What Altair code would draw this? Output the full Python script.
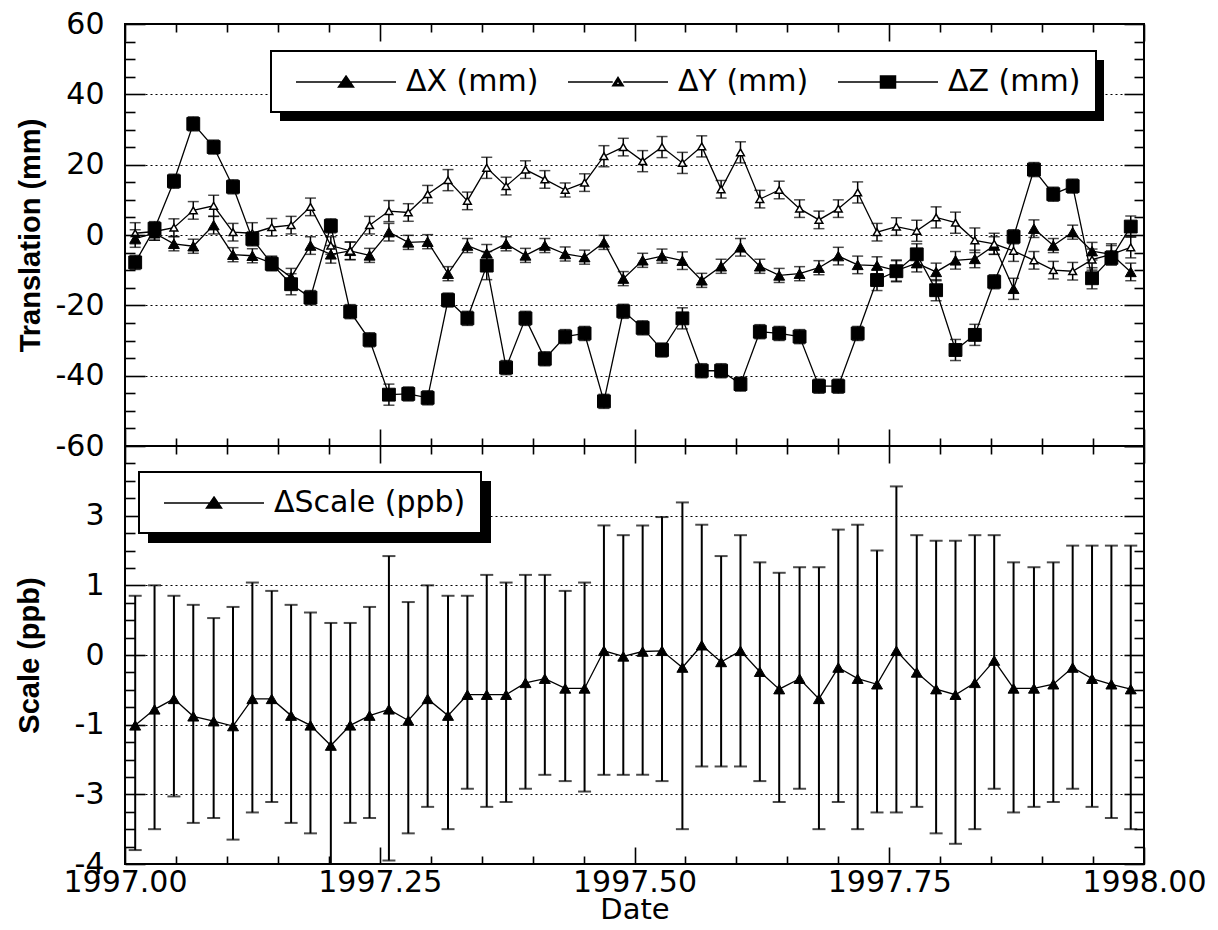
import altair as alt
import pandas as pd

# ---------------- data ----------------
dates = [1997.010, 1997.029, 1997.048, 1997.067, 1997.087, 1997.106, 1997.125, 1997.144,
         1997.163, 1997.182, 1997.202, 1997.221, 1997.240, 1997.259, 1997.278, 1997.297,
         1997.317, 1997.336, 1997.355, 1997.374, 1997.393, 1997.412, 1997.432, 1997.451,
         1997.470, 1997.489, 1997.508, 1997.527, 1997.547, 1997.566, 1997.585, 1997.604,
         1997.623, 1997.642, 1997.662, 1997.681, 1997.700, 1997.719, 1997.738, 1997.757,
         1997.777, 1997.796, 1997.815, 1997.834, 1997.853, 1997.872, 1997.892, 1997.911,
         1997.930, 1997.949, 1997.968, 1997.987]

dx = [-1.0, 0.5, -2.5, -3.2, 2.8, -5.6, -5.9, -8.0, -12.0, -3.0, -5.5, -4.5, -5.8, 0.8,
      -2.1, -1.9, -11.0, -3.0, -5.2, -2.5, -5.8, -3.0, -5.4, -6.3, -2.1, -12.4, -7.2, -6.0,
      -7.3, -12.9, -8.9, -3.5, -8.9, -11.5, -11.0, -9.3, -6.0, -8.5, -8.7, -10.1, -8.0,
      -10.5, -7.2, -6.8, -3.0, -15.3, 1.8, -3.0, 0.8, -4.6, -5.5, -10.5]
dx_err = [2.5, 2, 2, 2, 2.5, 2, 2, 2, 2.5, 2.5, 2.5, 2.5, 2, 2.5, 2, 2, 2, 2, 2.5, 2,
          2, 2, 2, 2, 2, 2, 2, 2, 2.5, 2, 2, 2.5, 2, 2, 2, 2, 2.5, 2.5, 2.5, 3,
          2.5, 2.5, 2.5, 2.5, 2.5, 3, 2.5, 2, 2, 2.5, 2.5, 2.5]

dy = [0.5, 1.0, 2.1, 7.0, 8.3, 0.8, 0.5, 2.2, 2.8, 8.0, -3.0, -4.5, 2.8, 6.8, 6.4, 11.6,
      15.6, 9.7, 19.1, 13.9, 18.6, 15.8, 12.8, 14.9, 22.4, 25.0, 21.0, 25.0, 20.5, 25.2,
      13.0, 23.5, 10.2, 12.8, 7.5, 4.3, 7.5, 12.1, 0.8, 2.4, 1.2, 5.0, 3.5, -1.5, -2.5,
      -4.5, -7.2, -10.0, -10.3, -7.0, -5.5, -3.5]
dy_err = [3, 2.5, 2.5, 2.5, 3, 2.5, 3, 2.5, 2.5, 2.5, 2.5, 2.5, 2.5, 3, 2.5, 2.5, 3, 2.5,
          3, 2.5, 2.5, 2.5, 2, 2.5, 3, 2.5, 3, 3, 3, 3, 2.5, 3, 2.5, 2.5, 2.5, 2.5, 2.5, 3,
          2.5, 2.5, 3, 3, 3, 3.5, 3, 3, 2.5, 2.5, 2.5, 3, 3, 3]

dz = [-7.8, 1.8, 15.3, 31.6, 25.0, 13.7, -1.1, -8.2, -14.0, -17.8, 2.6, -21.8, -29.8,
      -45.4, -45.2, -46.3, -18.5, -23.7, -8.7, -37.7, -23.7, -35.2, -28.9, -28.0, -47.3,
      -21.7, -26.4, -32.7, -23.7, -38.6, -38.6, -42.4, -27.5, -28.0, -28.9, -43.0, -43.0,
      -28.0, -12.8, -10.3, -5.5, -15.7, -32.7, -28.4, -13.3, -0.5, 18.6, 11.6, 13.9,
      -12.3, -6.5, 2.4]
dz_err = [2, 2, 2, 2, 2, 2, 2, 2, 3, 2, 2, 2, 2, 3, 2, 2, 2, 2, 4, 2, 2, 2, 2, 2, 2, 2,
          2, 2, 3, 2, 2, 2, 2, 2, 2, 2, 2, 2, 3, 3, 3, 3, 3, 3, 2, 2, 2, 2, 2, 3, 2, 3]

scale_val = [-1.01, -0.78, -0.63, -0.88, -0.95, -1.02, -0.63, -0.63, -0.87, -1.01,
             -1.30, -1.01, -0.87, -0.78, -0.94, -0.63, -0.87, -0.57, -0.57, -0.57,
             -0.40, -0.34, -0.48, -0.48, 0.06, -0.02, 0.05, 0.06, -0.18, 0.14,
             -0.10, 0.06, -0.24, -0.49, -0.34, -0.63, -0.18, -0.34, -0.42, 0.06,
             -0.25, -0.49, -0.57, -0.40, -0.08, -0.48, -0.48, -0.42, -0.18, -0.34,
             -0.42, -0.49]
scale_hi = [0.85, 1.0, 0.85, 0.72, 0.53, 0.69, 1.04, 0.92, 0.72, 0.61,
            0.46, 0.46, 0.69, 1.42, 0.76, 1.0, 0.85, 0.85, 1.15, 1.04,
            1.15, 1.15, 0.92, 1.04, 1.86, 1.72, 1.86, 1.98, 2.19, 1.87,
            1.42, 1.72, 1.33, 1.18, 1.26, 1.26, 1.80, 1.87, 1.50, 2.42,
            1.72, 1.64, 1.64, 1.72, 1.72, 1.33, 1.26, 1.33, 1.57, 1.57,
            1.57, 1.57]
scale_lo = [-2.80, -2.50, -2.03, -2.41, -2.34, -2.65, -2.26, -2.11, -2.41, -2.56,
            -3.06, -2.41, -2.34, -2.95, -2.56, -2.18, -2.50, -1.92, -2.18, -2.11,
            -1.92, -1.72, -1.81, -1.96, -1.72, -1.72, -1.72, -1.81, -2.50, -1.60,
            -1.60, -1.60, -1.81, -2.11, -1.92, -2.50, -2.11, -2.50, -2.26, -2.26,
            -2.18, -2.56, -2.71, -2.50, -1.92, -2.26, -2.18, -2.11, -1.92, -2.18,
            -2.34, -2.50]

trans_names = ["ΔX (mm)", "ΔY (mm)", "ΔZ (mm)"]
scale_names = ["ΔScale (ppb)"]

x_major = [1997.0, 1997.25, 1997.5, 1997.75, 1998.0]
x_minor = [1997.05, 1997.10, 1997.15, 1997.20, 1997.30, 1997.35, 1997.40, 1997.45,
           1997.55, 1997.60, 1997.65, 1997.70, 1997.80, 1997.85, 1997.90, 1997.95]
t_major = [-60, -40, -20, 0, 20, 40, 60]
t_grid = [-40, -20, 0, 20, 40]
t_minor = [-55, -50, -45, -35, -30, -25, -15, -10, -5, 5, 10, 15, 25, 30, 35, 45, 50, 55]
s_major = [-3, -2, -1, 0, 1, 2, 3]
s_labeled = [-3, -2, -1, 0, 1, 2]
s_grid = [-2, -1, 0, 1, 2]
s_minor = [-2.75, -2.5, -2.25, -1.75, -1.5, -1.25, -0.75, -0.5, -0.25,
           0.25, 0.5, 0.75, 1.25, 1.5, 1.75, 2.25, 2.5, 2.75]
s_label_map = "{'2': '3', '1': '1', '0': '0', '-1': '-1', '-2': '-3', '-3': '-4'}"

# ---------------- tables ----------------
rows = []
for name, vals, errs in zip(trans_names, [dx, dy, dz], [dx_err, dy_err, dz_err]):
    for d, v, e in zip(dates, vals, errs):
        rows.append({"date": d, "series": name, "value": v, "lo": v - e, "hi": v + e})
trans = pd.DataFrame(rows)
sdf = pd.DataFrame({"date": dates, "value": scale_val, "lo": scale_lo, "hi": scale_hi,
                    "series": scale_names[0]})
one = pd.DataFrame({"k": [0]})

FONT = "DejaVu Sans"
TFONT = "Liberation Sans"
W = 1019
H_TOP = 422
H_BOT = 418

xs = alt.Scale(domain=[1997.0, 1998.0], nice=False, zero=False)
ys_t = alt.Scale(domain=[-60, 60], nice=False, zero=False)
ys_s = alt.Scale(domain=[-3, 3], nice=False, zero=False)


def X(field="date"):
    return alt.X(f"{field}:Q", scale=xs, axis=None)


def Y(field, ys):
    return alt.Y(f"{field}:Q", scale=ys, axis=None)


def tick_axis(orient, values, size, **kw):
    base = dict(orient=orient, values=values, tickSize=size, offset=-size, domain=False,
                grid=False, labels=False, ticks=True, tickColor="black", tickWidth=1.6,
                title=None, zindex=1, minExtent=0)
    base.update(kw)
    return alt.Axis(**base)


def axis_layers(data, ys, y_major, y_grid, y_minor, y_label_axis, x_label_axis):
    layers = []
    specs = [
        (x_label_axis, y_label_axis),
        (tick_axis("bottom", x_minor, 8), tick_axis("left", y_minor, 10)),
        (tick_axis("top", x_major, 17), tick_axis("right", y_major, 20)),
        (tick_axis("top", x_minor, 8), tick_axis("right", y_minor, 10)),
        (None, alt.Axis(orient="left", values=y_grid, grid=True, gridColor="black",
                        gridDash=[2, 3], gridWidth=1, gridOpacity=1, ticks=False,
                        labels=False, domain=False, title=None, zindex=0, minExtent=0)),
    ]
    for xa, ya in specs:
        layers.append(
            alt.Chart(data).mark_point(opacity=0).encode(
                x=alt.X("date:Q", scale=xs, axis=xa),
                y=alt.Y("value:Q", scale=ys, axis=ya),
            )
        )
    return layers


# legend symbols: a line with a marker (custom paths, 15 px per path unit)
P_TRI_FILLED = "M-3.333,0H3.333M0,-0.4L0.5,0.33L-0.5,0.33Z"
P_TRI_OPEN = ("M-3.333,0H-0.35M0.35,0H3.333"
              "M0,-0.3L0.35,0.25L-0.35,0.25Z"
              "M0,-0.08L-0.16,0.16L0.16,0.16Z")
P_SQUARE = "M-3.333,0H3.333M-0.5,-0.4H0.5V0.4H-0.5Z"


def make_legend(x, y, columns):
    return alt.Legend(orient="none", legendX=x, legendY=y, direction="horizontal",
                      columns=columns, title=None, strokeColor="black", fillColor="white",
                      padding=15, labelFont=FONT, labelFontSize=30, labelColor="black",
                      labelOffset=44, symbolOffset=44, columnPadding=19, symbolSize=900,
                      symbolStrokeWidth=1.5, labelLimit=500, zindex=2)


def legend_layer(data, names, paths, ys, x, y, columns):
    return alt.Chart(data).transform_filter("false").mark_point(
        filled=True, color="black", fill="black", stroke="black", strokeWidth=1.5,
        opacity=1).encode(
        x=X(), y=Y("value", ys),
        shape=alt.Shape("series:N", scale=alt.Scale(domain=names, range=paths),
                        legend=make_legend(x, y, columns)))


# ---------------- top panel ----------------
t_xlab = tick_axis("bottom", x_major, 17)
t_ylab = tick_axis("left", t_major, 20, labels=True, labelFont=FONT, labelFontSize=30,
                   labelColor="black", labelPadding=21, labelExpr="toString(datum.value)",
                   title="Translation (mm)", titleFont=TFONT, titleFontSize=29,
                   titleFontWeight="bold", titleColor="black", titlePadding=10)

t_lines = alt.Chart(trans).mark_line(color="black", strokeWidth=1.3).encode(
    x=X(), y=Y("value", ys_t), detail="series:N")
t_err = alt.Chart(trans).mark_rule(color="black", strokeWidth=1.5).encode(
    x=X(), y=Y("lo", ys_t), y2="hi:Q")
t_cap_lo = alt.Chart(trans).mark_tick(color="black", orient="horizontal", size=11,
                                      thickness=1.5).encode(x=X(), y=Y("lo", ys_t))
t_cap_hi = alt.Chart(trans).mark_tick(color="black", orient="horizontal", size=11,
                                      thickness=1.5).encode(x=X(), y=Y("hi", ys_t))


def pts(name, **mk):
    return alt.Chart(trans).transform_filter(alt.datum.series == name).mark_point(
        opacity=1, filled=True, **mk).encode(x=X(), y=Y("value", ys_t))


pts_x = pts(trans_names[0], shape="triangle-up", fill="black", stroke="black",
            strokeWidth=1, size=120)
pts_y = pts(trans_names[1], shape="triangle-up", fill="white", stroke="black",
            strokeWidth=1.5, size=60)
pts_z = pts(trans_names[2], shape="square", fill="black", stroke="black",
            strokeWidth=1, size=165)

t_shadow = alt.Chart(one).mark_rect(color="black").encode(
    x=alt.value(155), x2=alt.value(979), y=alt.value(36), y2=alt.value(97))

t_legend = legend_layer(trans, trans_names, [P_TRI_FILLED, P_TRI_OPEN, P_SQUARE], ys_t,
                        146, 27, 3)

top = alt.layer(
    *axis_layers(trans, ys_t, t_major, t_grid, t_minor, t_ylab, t_xlab),
    t_shadow, t_lines, t_err, t_cap_lo, t_cap_hi, pts_x, pts_y, pts_z, t_legend,
).resolve_axis(x="independent", y="independent").properties(width=W, height=H_TOP)

# ---------------- bottom panel ----------------
s_xlab = tick_axis("bottom", x_major, 17, labels=True, labelFont=FONT, labelFontSize=30,
                   labelColor="black", labelPadding=3, format=".2f", labelFlush=False,
                   title="Date", titleFont=FONT, titleFontSize=29, titleFontWeight="normal",
                   titleColor="black", titlePadding=-2)
s_ylab = tick_axis("left", s_labeled, 20, labels=True, labelFont=FONT,
                   labelFontSize=30, labelColor="black", labelPadding=21,
                   labelExpr=s_label_map + "[toString(datum.value)]",
                   title="Scale (ppb)", titleFont=TFONT, titleFontSize=29,
                   titleFontWeight="bold", titleColor="black", titlePadding=30)

s_line = alt.Chart(sdf).mark_line(color="black", strokeWidth=1.3).encode(
    x=X(), y=Y("value", ys_s))
s_err = alt.Chart(sdf).mark_rule(color="black", strokeWidth=2, clip=True).encode(
    x=X(), y=Y("lo", ys_s), y2="hi:Q")
s_cap_lo = alt.Chart(sdf).mark_tick(color="black", orient="horizontal", size=13,
                                    thickness=2, clip=True).encode(x=X(), y=Y("lo", ys_s))
s_cap_hi = alt.Chart(sdf).mark_tick(color="black", orient="horizontal", size=13,
                                    thickness=2, clip=True).encode(x=X(), y=Y("hi", ys_s))
s_pts = alt.Chart(sdf).mark_point(shape="triangle-up", filled=True, fill="black",
                                  stroke="black", strokeWidth=1, size=120,
                                  opacity=1).encode(x=X(), y=Y("value", ys_s))

s_shadow = alt.Chart(one).mark_rect(color="black").encode(
    x=alt.value(23), x2=alt.value(366), y=alt.value(35), y2=alt.value(97))

s_legend = legend_layer(sdf, scale_names, [P_TRI_FILLED], ys_s, 14, 26, 1)

bottom = alt.layer(
    *axis_layers(sdf, ys_s, s_major, s_grid, s_minor, s_ylab, s_xlab),
    s_shadow, s_line, s_err, s_cap_lo, s_cap_hi, s_pts, s_legend,
).resolve_axis(x="independent", y="independent").properties(width=W, height=H_BOT)

chart = alt.vconcat(top, bottom, spacing=0, bounds="flush").resolve_scale(
    shape="independent").resolve_legend(shape="independent").properties(
    padding={"left": 14, "top": 8, "right": 10, "bottom": 4},
    background="white",
).configure_view(stroke="black", strokeWidth=2).configure_legend(strokeWidth=2)

chart.save("out.html", embed_options={"renderer": "svg", "actions": False})
